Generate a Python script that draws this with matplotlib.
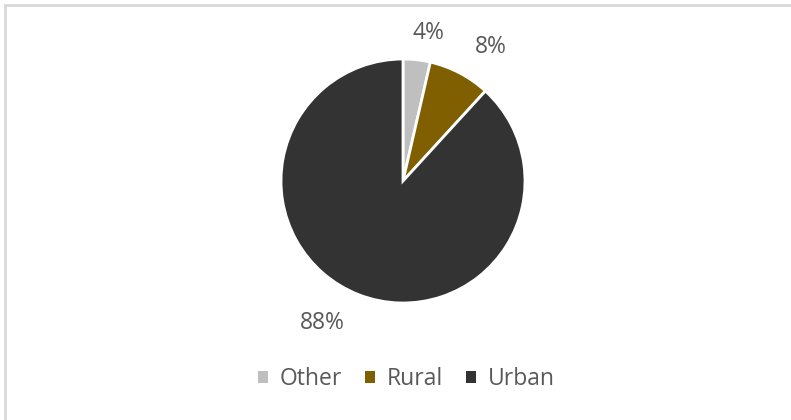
import matplotlib.pyplot as plt
from matplotlib.patches import Rectangle

labels = ["Other", "Rural", "Urban"]
shares = [3.6, 8.2, 88.2]
colors = ["#bfbfbf", "#7f5f00", "#333333"]
# where Excel put the data labels (pie radius = 1)
label_pos = [(0.205, 1.213), (0.721, 1.098), (-0.664, -1.164)]

plt.rcParams["font.family"] = ["Open Sans", "DejaVu Sans"]
text_color = "#595959"

fig = plt.figure(figsize=(7.91, 4.20), dpi=100)

# chart frame (only left/top visible in the original)
fig.patches.append(Rectangle((5 / 791, -0.1), 1.2, 1 - 5 / 420 + 0.1,
                             transform=fig.transFigure, fill=False,
                             edgecolor="#d9d9d9", linewidth=2))

r = 122
cx, cy = 403, 181
ax = fig.add_axes([(cx - r) / 791, (420 - cy - r) / 420, 2 * r / 791, 2 * r / 420])

wedges, texts, autotexts = ax.pie(
    shares, colors=colors, startangle=90, counterclock=False,
    autopct="%.0f%%", pctdistance=1.2,
    wedgeprops=dict(edgecolor="white", linewidth=2),
    textprops=dict(color=text_color, fontsize=16.5),
)
for t, pos in zip(autotexts, label_pos):
    t.set_position(pos)
    t.set_ha("center")
    t.set_va("center")
ax.set_xlim(-1, 1)
ax.set_ylim(-1, 1)
ax.set_aspect("equal")

leg = fig.legend(wedges, labels, loc="center", ncol=3,
                 bbox_to_anchor=(406 / 791, 1 - 379 / 420),
                 frameon=False, fontsize=16.5, handlelength=0.45, handleheight=0.45,
                 handletextpad=0.5, columnspacing=1.0, labelcolor=text_color)
for h in leg.legend_handles:
    h.set_edgecolor("none")

fig.savefig("out.png", dpi=100)
